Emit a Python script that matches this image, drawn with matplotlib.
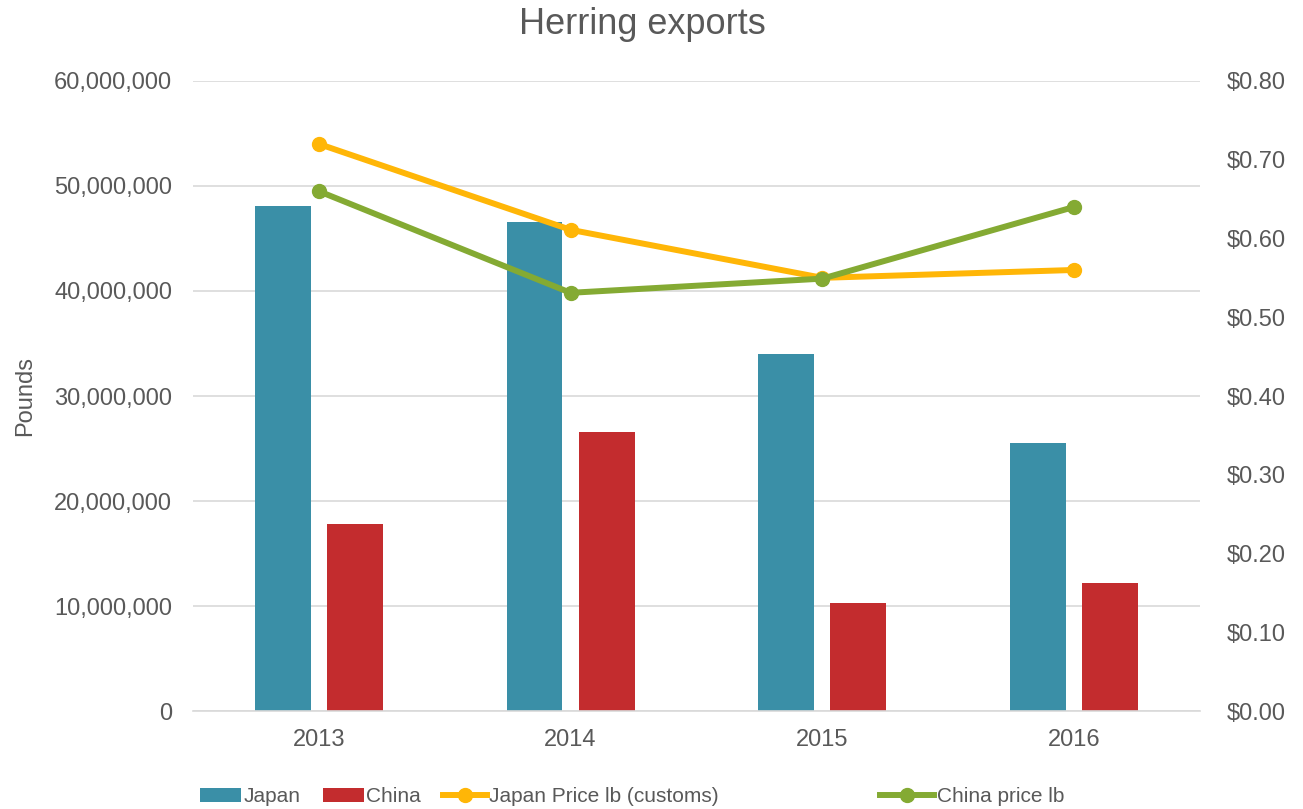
import numpy as np
import matplotlib.pyplot as plt
from matplotlib.ticker import FuncFormatter, MultipleLocator
from matplotlib.patches import Patch
from matplotlib.lines import Line2D

plt.rcParams['font.family'] = ['Liberation Sans', 'DejaVu Sans']

years = ['2013', '2014', '2015', '2016']
japan_lbs = [48.1e6, 46.6e6, 34.0e6, 25.5e6]
china_lbs = [17.8e6, 26.6e6, 10.3e6, 12.2e6]
japan_price = [0.72, 0.611, 0.55, 0.56]
china_price = [0.66, 0.531, 0.549, 0.64]

c_japan = '#3a8fa7'
c_china = '#c32c2e'
c_jprice = '#ffb607'
c_cprice = '#84aa33'
grey_txt = '#595959'
grid_c = '#d9d9d9'

fig = plt.figure(figsize=(13.03, 8.09), dpi=100)
ax = fig.add_axes([0.148, 0.121, 0.773, 0.779])
ax2 = ax.twinx()

x = np.arange(len(years))
w = 0.222
off = 0.143
ax.bar(x - off, japan_lbs, w, color=c_japan, zorder=2)
ax.bar(x + off, china_lbs, w, color=c_china, zorder=2)

ax2.plot(x, japan_price, color=c_jprice, lw=4.3, marker='o', ms=10, zorder=3)
ax2.plot(x, china_price, color=c_cprice, lw=4.3, marker='o', ms=10, zorder=3)

ax.set_xlim(-0.5, 3.5)
ax.set_ylim(0, 60e6)
ax.yaxis.set_major_locator(MultipleLocator(10e6))
ax.yaxis.set_major_formatter(FuncFormatter(lambda v, p: f'{v:,.0f}'))
ax2.set_ylim(0, 0.8)
ax2.yaxis.set_major_locator(MultipleLocator(0.1))
ax2.yaxis.set_major_formatter(FuncFormatter(lambda v, p: f'${v:.2f}'))

ax.set_xticks(x)
ax.set_xticklabels(years)
ax.grid(axis='y', color=grid_c, lw=1.2, zorder=0)
ax.set_axisbelow(True)

for a in (ax, ax2):
    for s in a.spines.values():
        s.set_visible(False)
ax.spines['bottom'].set_visible(True)
ax.spines['bottom'].set_color(grid_c)
ax.spines['bottom'].set_linewidth(1.2)

ax.tick_params(axis='y', length=0, pad=15, labelsize=17, labelcolor=grey_txt)
ax.tick_params(axis='x', length=0, pad=13, labelsize=17, labelcolor=grey_txt)
ax2.tick_params(axis='y', length=0, pad=19, labelsize=17, labelcolor=grey_txt)

ax.set_ylabel('Pounds', fontsize=17, color=grey_txt)
ax.yaxis.set_label_coords(-0.156, 0.5)

fig.text(0.493, 0.970, 'Herring exports', ha='center', va='center',
         fontsize=26, color=grey_txt)

# legend entries are spaced unevenly, so each one gets its own anchor
entries = [
    (Patch(facecolor=c_japan, label='Japan'), 200, 1.95),
    (Patch(facecolor=c_china, label='China'), 323, 1.95),
    (Line2D([], [], color=c_jprice, lw=4.3, marker='o', ms=10,
            label='Japan Price lb (customs)'), 443, 2.1),
    (Line2D([], [], color=c_cprice, lw=4.3, marker='o', ms=10,
            label='China price lb'), 880, 2.6),
]
for h, xpx, hl in entries:
    leg = fig.legend(handles=[h], loc='center left',
                     bbox_to_anchor=(xpx / 1303, 1 - 797 / 809),
                     frameon=False, borderpad=0, borderaxespad=0,
                     handlelength=hl, handleheight=0.62, handletextpad=0.12,
                     fontsize=15, labelcolor=grey_txt)

fig.savefig('out.png', dpi=100)
